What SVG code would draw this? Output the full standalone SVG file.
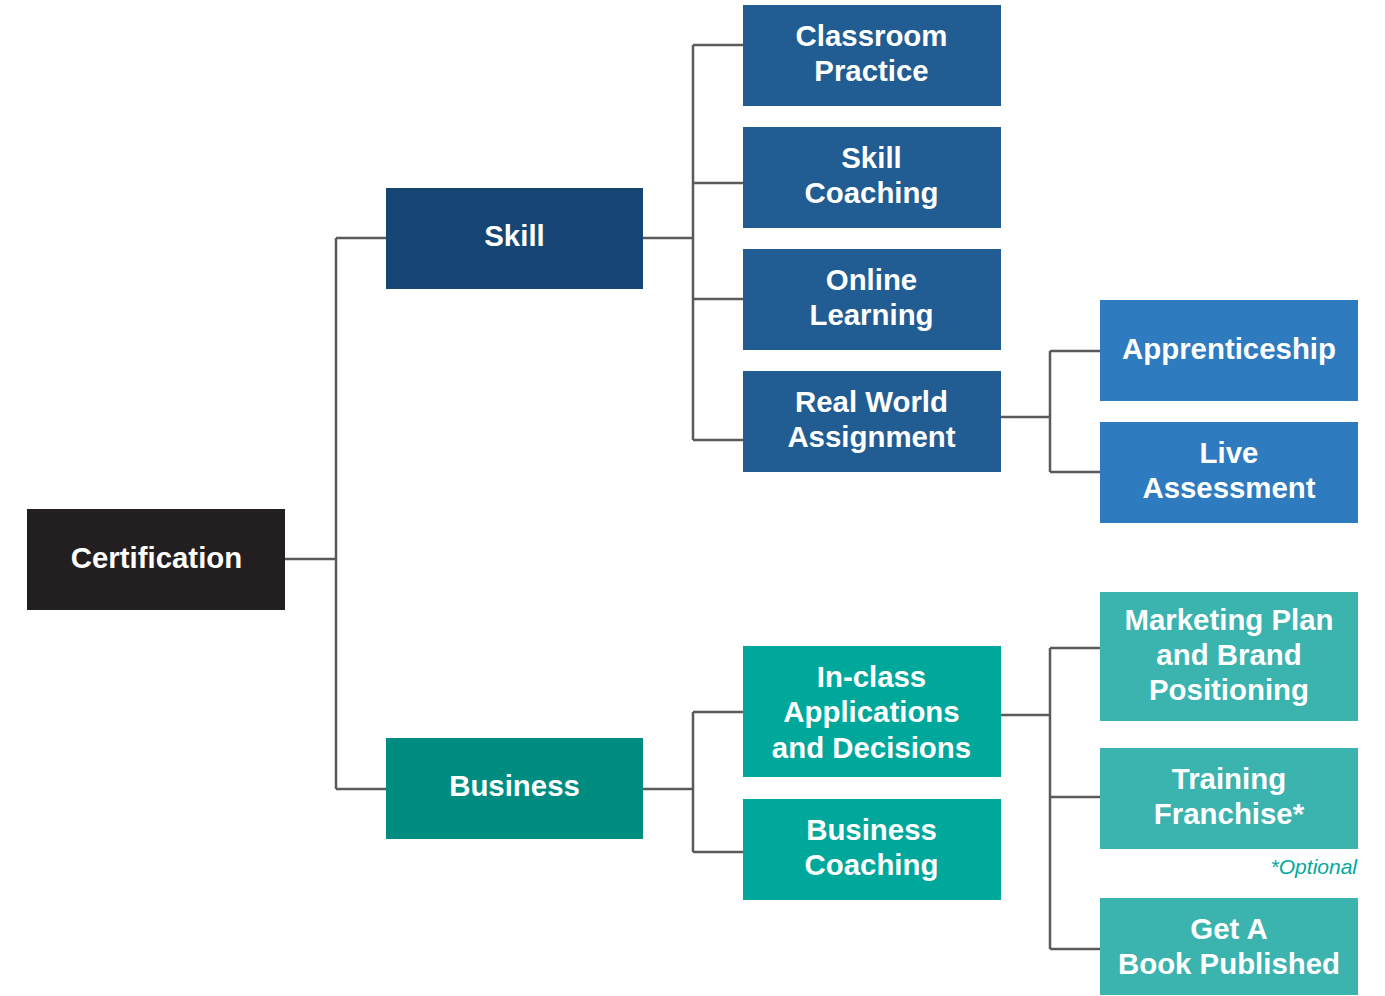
<svg xmlns="http://www.w3.org/2000/svg" width="1385" height="996" viewBox="0 0 1385 996">
<style>
.t{font-family:"Liberation Sans",Arial,sans-serif;font-weight:bold;font-size:29.4px;fill:#ffffff;text-anchor:middle}
.c{fill:none;stroke:#5a5a5a;stroke-width:2.5}
.root{fill:#231f20}.skill{fill:#154673}.b2{fill:#215d93}.b3{fill:#2e7bc0}
.bus{fill:#008c81}.g2{fill:#00a89c}.g3{fill:#3bb3ae}
</style>
<rect width="1385" height="996" fill="#ffffff"/>
<g id="connectors">
<path class="c" d="M285 559H336M336 238V789M336 238H386M336 789H386"/>
<path class="c" d="M643 238H693M693 45V440M693 45H743M693 183H743M693 299H743M693 440H743"/>
<path class="c" d="M1000 417H1050M1050 351V472M1050 351H1100M1050 472H1100"/>
<path class="c" d="M643 789H693M693 712V852M693 712H743M693 852H743"/>
<path class="c" d="M1000 715H1050M1050 648V949M1050 648H1100M1050 797H1100M1050 949H1100"/>
</g>
<g id="certification"><rect class="root" x="27" y="509" width="258" height="101"/><text class="t" x="156.5" y="567.5">Certification</text></g>
<g id="skill"><rect class="skill" x="386" y="188" width="257" height="101"/><text class="t" x="514.5" y="245.5">Skill</text></g>
<g id="business"><rect class="bus" x="386" y="738" width="257" height="101"/><text class="t" x="514.5" y="795.5">Business</text></g>
<g id="classroom-practice"><rect class="b2" x="743" y="5" width="258" height="101"/><text class="t" x="871.5" y="45.5">Classroom</text><text class="t" x="871.5" y="80.5">Practice</text></g>
<g id="skill-coaching"><rect class="b2" x="743" y="127" width="258" height="101"/><text class="t" x="871.5" y="167.5">Skill</text><text class="t" x="871.5" y="202.5">Coaching</text></g>
<g id="online-learning"><rect class="b2" x="743" y="249" width="258" height="101"/><text class="t" x="871.5" y="289.5">Online</text><text class="t" x="871.5" y="324.5">Learning</text></g>
<g id="real-world-assignment"><rect class="b2" x="743" y="371" width="258" height="101"/><text class="t" x="871.5" y="411.5">Real World</text><text class="t" x="871.5" y="446.5">Assignment</text></g>
<g id="apprenticeship"><rect class="b3" x="1100" y="300" width="258" height="101"/><text class="t" x="1229" y="358.5">Apprenticeship</text></g>
<g id="live-assessment"><rect class="b3" x="1100" y="422" width="258" height="101"/><text class="t" x="1229" y="462.5">Live</text><text class="t" x="1229" y="497.5">Assessment</text></g>
<g id="in-class"><rect class="g2" x="743" y="646" width="258" height="131"/><text class="t" x="871.5" y="686.5">In-class</text><text class="t" x="871.5" y="722">Applications</text><text class="t" x="871.5" y="757.5">and Decisions</text></g>
<g id="business-coaching"><rect class="g2" x="743" y="799" width="258" height="101"/><text class="t" x="871.5" y="839.5">Business</text><text class="t" x="871.5" y="874.5">Coaching</text></g>
<g id="marketing-plan"><rect class="g3" x="1100" y="592" width="258" height="129"/><text class="t" x="1229" y="629.5">Marketing Plan</text><text class="t" x="1229" y="664.5">and Brand</text><text class="t" x="1229" y="700">Positioning</text></g>
<g id="training-franchise"><rect class="g3" x="1100" y="748" width="258" height="101"/><text class="t" x="1229" y="788.5">Training</text><text class="t" x="1229" y="823.5">Franchise*</text></g>
<g id="optional-note"><text x="1357" y="874" font-family="'Liberation Sans',Arial,sans-serif" font-style="italic" font-size="21" fill="#00a99d" text-anchor="end">*Optional</text></g>
<g id="get-a-book-published"><rect class="g3" x="1100" y="898" width="258" height="97"/><text class="t" x="1229" y="938.5">Get A</text><text class="t" x="1229" y="973.5">Book Published</text></g>
</svg>
